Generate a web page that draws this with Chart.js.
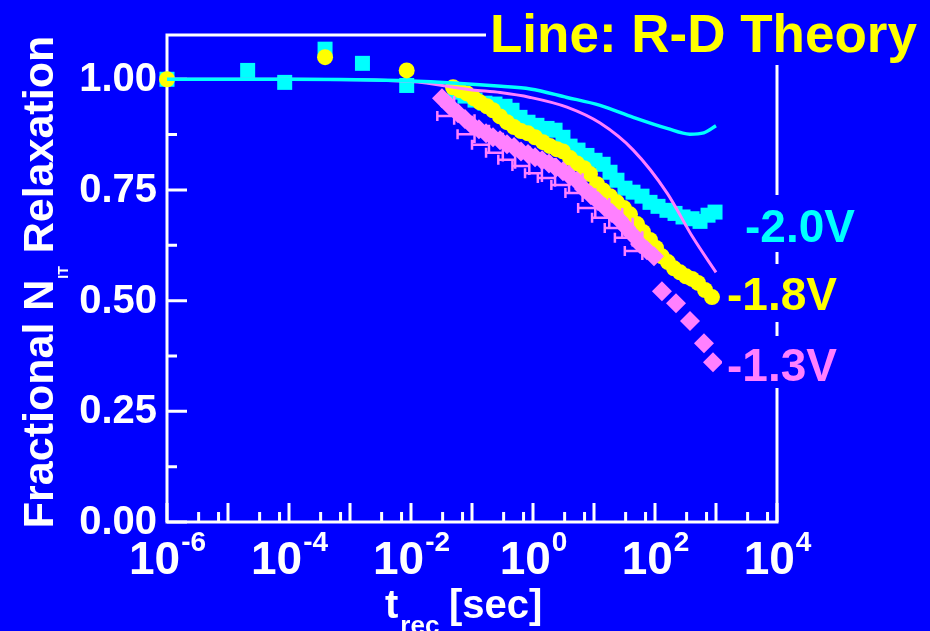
<!DOCTYPE html>
<html>
<head>
<meta charset="utf-8">
<script src="https://cdn.jsdelivr.net/npm/chart.js@4.4.0/dist/chart.umd.min.js"></script>
<style>
  html, body { margin: 0; padding: 0; background: #0000ff; }
  canvas { display: block; }
</style>
</head>
<body>
<canvas id="relaxChart" width="930" height="631"></canvas>
<script>
// -2.0V stress: recovery time [s] and fractional N_IT
const cyanTime = [1e-6, 2.1e-5, 8.5e-5, 3.9e-4, 1.6e-3, 8.5e-3,
  0.0526, 0.0767, 0.112, 0.163, 0.238, 0.348, 0.453, 0.612, 0.828, 1.16, 1.70, 2.30, 3.10, 4.05, 5.47, 7.67,
  10.4, 14.1, 18.3, 23.8, 32.2, 43.6, 61.2, 82.8, 112, 157, 213, 288, 405, 547, 740, 964];
const cyanValue = [1.00, 1.02, 0.993, 1.068, 1.036, 0.986,
  0.971, 0.962, 0.953, 0.946, 0.944, 0.939, 0.930, 0.914, 0.903, 0.896, 0.889, 0.885, 0.869, 0.849, 0.840, 0.828,
  0.817, 0.808, 0.790, 0.772, 0.754, 0.745, 0.736, 0.722, 0.713, 0.704, 0.697, 0.689, 0.685, 0.679, 0.693, 0.700];

// -1.8V stress
const yellowTime = [1e-6, 3.9e-4, 8.5e-3,
  0.0489, 0.0635, 0.0828, 0.108, 0.135, 0.176, 0.221, 0.288, 0.375, 0.489, 0.636, 0.828, 1.08, 1.46, 1.90, 2.47,
  3.10, 4.05, 5.26, 6.86, 8.59, 11.2, 14.1, 18.3, 23.8, 31.0, 38.9, 50.7, 63.5, 82.8, 104, 130, 163, 205, 257,
  322, 405, 507, 661, 859];
const yellowValue = [1.00, 1.05, 1.02,
  0.982, 0.975, 0.968, 0.957, 0.948, 0.939, 0.930, 0.916, 0.903, 0.892, 0.883, 0.878, 0.869, 0.858, 0.849, 0.842,
  0.837, 0.822, 0.810, 0.799, 0.786, 0.763, 0.749, 0.736, 0.722, 0.709, 0.695, 0.673, 0.655, 0.637, 0.619, 0.600, 0.587, 0.573, 0.564,
  0.555, 0.549, 0.540, 0.524, 0.508];

// -1.3V stress
const pinkTime = [0.0322, 0.0436, 0.0589, 0.0767, 0.100, 0.130, 0.170, 0.221, 0.288, 0.375, 0.489, 0.636, 0.828,
  1.08, 1.41, 1.83, 2.38, 3.10, 4.05, 5.26, 6.86, 8.93, 11.6, 15.1, 19.7, 25.7, 33.5, 43.6, 56.8, 74.0, 96.4,
  130, 221, 375, 635, 893];
const pinkValue = [0.957, 0.939, 0.923, 0.910, 0.896, 0.887, 0.878, 0.869, 0.862, 0.853, 0.847, 0.837, 0.831,
  0.824, 0.817, 0.810, 0.801, 0.792, 0.781, 0.770, 0.752, 0.738, 0.725, 0.711, 0.698, 0.684, 0.666, 0.648, 0.628, 0.614, 0.600,
  0.521, 0.494, 0.454, 0.404, 0.361];

// error bars on the early -1.3V points
const pinkErrLow = [0.027, 0.058, 0.10, 0.17, 0.27, 0.46, 0.74, 1.2, 2.0, 3.4, 5.5, 9.3, 15, 22, 32];
const pinkErrHigh = [0.051, 0.11, 0.19, 0.32, 0.51, 0.87, 1.4, 2.3, 3.9, 6.5, 10.5, 17.8, 29, 43, 62];
const pinkErrBar = [0.917, 0.876, 0.852, 0.834, 0.818, 0.804, 0.788, 0.777, 0.761, 0.743, 0.709, 0.687, 0.664, 0.642, 0.612];
const pinkErrBottom = [0.897, 0.856, 0.832, 0.814, 0.798, 0.784, 0.768, 0.757, 0.741, 0.723, 0.689, 0.667, 0.644, 0.622, 0.592];
const pinkErrTop = [0.962, 0.921, 0.897, 0.879, 0.863, 0.849, 0.833, 0.822, 0.806, 0.788, 0.754, 0.732, 0.709, 0.687, 0.657];

// R-D theory curves
const rdCyanTime = [1e-6, 1e-4, 1e-2, 0.3, 0.9, 3.6, 12.6, 44, 158, 372, 630, 1000];
const rdCyanValue = [1.00, 1.00, 0.996, 0.984, 0.978, 0.959, 0.941, 0.914, 0.889, 0.876, 0.879, 0.895];
const rdPinkTime = [1e-6, 1e-4, 1e-2, 0.1, 0.29, 0.9, 3.6, 12.6, 44, 158, 417, 1000];
const rdPinkValue = [1.00, 1.00, 0.995, 0.976, 0.970, 0.959, 0.937, 0.901, 0.840, 0.743, 0.643, 0.564];

// axis ticks
const yTickValues = [0, 0.25, 0.5, 0.75, 1.0];
const yTickLabels = ['0.00', '0.25', '0.50', '0.75', '1.00'];
const yMinorValues = [0.125, 0.375, 0.625, 0.875];
const xDecades = [1e-6, 1e-5, 1e-4, 1e-3, 1e-2, 1e-1, 1, 10, 100, 1000, 1e4];
const xLabelExponents = ['-6', '-4', '-2', '0', '2', '4'];
const xMinorFactors = [3.3, 7];

const CYAN = '#00ffff';
const YELLOW = '#ffff00';
const PINK = '#ff80ff';
const BLUE = '#0000ff';
const FONT = "'Liberation Sans', Arial, Helvetica, sans-serif";

const toPoints = (xs, ys) => xs.map((x, i) => ({ x: x, y: ys[i] }));

// frame, ticks and tick labels, drawn under the data
const axesPlugin = {
  id: 'axesPlugin',
  beforeDatasetsDraw(chart) {
    const { ctx, chartArea: a, scales: { x, y } } = chart;
    ctx.save();
    ctx.strokeStyle = '#fff';
    ctx.lineWidth = 3;
    ctx.lineCap = 'butt';
    ctx.strokeRect(a.left, a.top, a.right - a.left, a.bottom - a.top);

    ctx.beginPath();
    yTickValues.forEach(v => {
      const py = y.getPixelForValue(v);
      ctx.moveTo(a.left, py); ctx.lineTo(a.left + 20, py);
    });
    yMinorValues.forEach(v => {
      const py = y.getPixelForValue(v);
      ctx.moveTo(a.left, py); ctx.lineTo(a.left + 10, py);
    });
    xDecades.forEach((d, i) => {
      const px = x.getPixelForValue(d);
      ctx.moveTo(px, a.bottom); ctx.lineTo(px, a.bottom - 19);
      if (i < xDecades.length - 1) {
        xMinorFactors.forEach(f => {
          const mx = x.getPixelForValue(d * f);
          ctx.moveTo(mx, a.bottom); ctx.lineTo(mx, a.bottom - 10);
        });
      }
    });
    ctx.stroke();

    ctx.fillStyle = '#fff';
    ctx.font = 'bold 40px ' + FONT;
    ctx.textAlign = 'right';
    ctx.textBaseline = 'middle';
    yTickValues.forEach((v, i) => {
      ctx.fillText(yTickLabels[i], a.left - 10, y.getPixelForValue(v) + 1);
    });

    ctx.textAlign = 'left';
    ctx.textBaseline = 'alphabetic';
    xLabelExponents.forEach(e => {
      const px = x.getPixelForValue(Math.pow(10, Number(e)));
      ctx.font = 'bold 46px ' + FONT;
      const wBase = ctx.measureText('10').width;
      ctx.font = 'bold 28px ' + FONT;
      const wExp = ctx.measureText(e).width;
      const start = px - (wBase + wExp) / 2;
      ctx.font = 'bold 46px ' + FONT;
      ctx.fillText('10', start, 574);
      ctx.font = 'bold 28px ' + FONT;
      ctx.fillText(e, start + wBase + 1, 551);
    });

    // x title: t_rec [sec]
    ctx.font = 'bold 40px ' + FONT;
    ctx.fillText('t', 385, 618);
    const wt = ctx.measureText('t').width;
    ctx.font = 'bold 26px ' + FONT;
    ctx.fillText('rec', 385 + wt + 2, 634);
    ctx.font = 'bold 40px ' + FONT;
    ctx.fillText('[sec]', 449, 618);

    // y title: Fractional N_IT Relaxation
    ctx.translate(53, 282);
    ctx.rotate(-Math.PI / 2);
    ctx.font = 'bold 43px ' + FONT;
    const w1 = ctx.measureText('Fractional N').width;
    const w3 = ctx.measureText(' Relaxation').width;
    ctx.font = 'bold 14px ' + FONT;
    const w2 = ctx.measureText('IT').width;
    let sx = -(w1 + w2 + w3 + 2) / 2;
    ctx.font = 'bold 43px ' + FONT;
    ctx.fillText('Fractional N', sx, 0);
    sx += w1 + 1;
    ctx.font = 'bold 14px ' + FONT;
    ctx.fillText('IT', sx, 15);
    sx += w2 + 1;
    ctx.font = 'bold 43px ' + FONT;
    ctx.fillText(' Relaxation', sx, 0);
    ctx.restore();
  },
  afterDatasetDraw(chart, args) {
    if (chart.data.datasets[args.index].label !== '-1.3V') return;
    const { ctx, scales: { x, y } } = chart;
    ctx.save();
    ctx.strokeStyle = PINK;
    ctx.lineWidth = 2.5;
    ctx.beginPath();
    pinkErrBar.forEach((v, i) => {
      const lx = x.getPixelForValue(pinkErrLow[i]);
      const hx = x.getPixelForValue(pinkErrHigh[i]);
      const by = y.getPixelForValue(v);
      ctx.moveTo(lx, by); ctx.lineTo(hx, by);
      ctx.moveTo(lx, by - 5); ctx.lineTo(lx, by + 5);
      ctx.moveTo(hx, y.getPixelForValue(pinkErrTop[i]));
      ctx.lineTo(hx, y.getPixelForValue(pinkErrBottom[i]));
    });
    ctx.stroke();
    ctx.restore();
  },
  afterDraw(chart) {
    const { ctx } = chart;
    ctx.save();
    ctx.fillStyle = BLUE;
    ctx.fillRect(486, 0, 444, 65);
    ctx.fillRect(740, 195, 120, 57);
    ctx.fillRect(722, 264, 120, 58);
    ctx.fillRect(722, 336, 120, 52);
    ctx.textAlign = 'left';
    ctx.textBaseline = 'alphabetic';
    ctx.font = 'bold 53px ' + FONT;
    ctx.fillStyle = YELLOW;
    ctx.fillText('Line: R-D Theory', 490, 52);
    ctx.font = 'bold 46px ' + FONT;
    ctx.fillStyle = CYAN;
    ctx.fillText('-2.0V', 745, 242);
    ctx.fillStyle = YELLOW;
    ctx.fillText('-1.8V', 727, 310);
    ctx.fillStyle = PINK;
    ctx.fillText('-1.3V', 727, 381);
    ctx.restore();
  }
};

new Chart(document.getElementById('relaxChart').getContext('2d'), {
  type: 'scatter',
  data: {
    datasets: [
      {
        label: 'R-D -2.0V',
        data: toPoints(rdCyanTime, rdCyanValue),
        showLine: true,
        borderColor: CYAN,
        borderWidth: 3.5,
        pointRadius: 0,
        tension: 0.4,
        cubicInterpolationMode: 'monotone',
        order: 0
      },
      {
        label: 'R-D -1.3V',
        data: toPoints(rdPinkTime, rdPinkValue),
        showLine: true,
        borderColor: PINK,
        borderWidth: 3,
        pointRadius: 0,
        tension: 0.4,
        cubicInterpolationMode: 'monotone',
        order: 1
      },
      {
        label: '-1.3V',
        data: toPoints(pinkTime, pinkValue),
        pointStyle: 'rectRot',
        pointRadius: 10,
        pointBackgroundColor: PINK,
        pointBorderWidth: 0,
        order: 2
      },
      {
        label: '-1.8V',
        data: toPoints(yellowTime, yellowValue),
        pointStyle: 'circle',
        pointRadius: 8,
        pointBackgroundColor: YELLOW,
        pointBorderWidth: 0,
        order: 3
      },
      {
        label: '-2.0V',
        data: toPoints(cyanTime, cyanValue),
        pointStyle: 'rect',
        pointRadius: 10.6,
        pointBackgroundColor: CYAN,
        pointBorderWidth: 0,
        order: 4
      }
    ]
  },
  options: {
    responsive: false,
    animation: false,
    clip: false,
    layout: { padding: { left: 167, right: 153, top: 35, bottom: 109 } },
    plugins: { legend: { display: false }, tooltip: { enabled: false } },
    scales: {
      x: { type: 'logarithmic', min: 1e-6, max: 1e4, display: false },
      y: { type: 'linear', min: 0, max: 1.1, display: false }
    }
  },
  plugins: [axesPlugin]
});
</script>
</body>
</html>
